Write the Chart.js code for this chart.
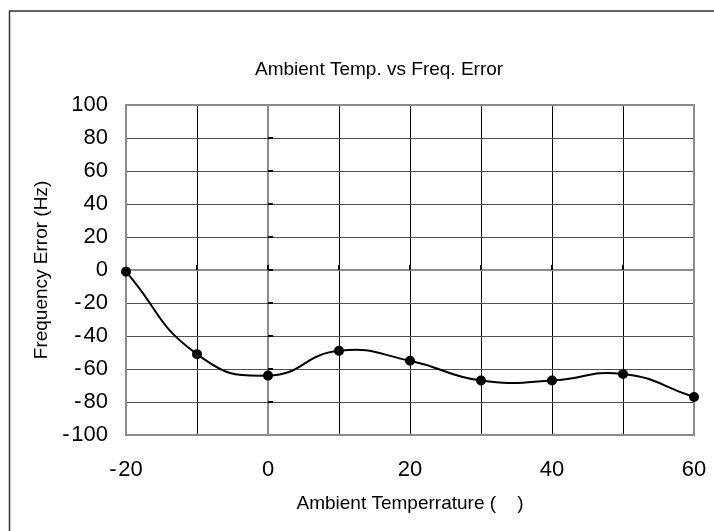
<!DOCTYPE html>
<html><head><meta charset="utf-8">
<script src="https://cdn.jsdelivr.net/npm/chart.js@4/dist/chart.umd.min.js"></script>
<style>html,body{margin:0;padding:0;background:#fff}#wrap{width:714px;height:531px}</style>
</head><body><div id="wrap"><canvas id="c" width="714" height="531"></canvas></div>
<script>
const temps = [-20, -10, 0, 10, 20, 30, 40, 50, 60];
const freqError = [-1, -51, -64, -49, -55, -67, -67, -63, -77];
const xTicks = [-20, 0, 20, 40, 60];
const yTicks = [100, 80, 60, 40, 20, 0, -20, -40, -60, -80, -100];
const FONT = "'Liberation Sans', Arial, sans-serif";

function fmt(v){ return v < 0 ? '-\u200A' + Math.abs(v) : String(v); }

const framePlugin = {
  id: 'frame',
  afterLayout(chart){
    if (chart.titleBlock) { chart.titleBlock.left = 255; }
  },
  beforeDraw(chart){
    const ctx = chart.ctx;
    ctx.save();
    ctx.fillStyle = '#fff';
    ctx.fillRect(0,0,chart.width,chart.height);
    ctx.strokeStyle = '#333';
    ctx.lineWidth = 1.5;
    ctx.beginPath();
    ctx.moveTo(9.5, chart.height + 2);
    ctx.lineTo(9.5, 11);
    ctx.lineTo(chart.width + 2, 11);
    ctx.stroke();
    ctx.restore();
  },
  beforeDatasetsDraw(chart){
    const {ctx, chartArea: a, scales} = chart;
    ctx.save();
    const x0 = scales.x.getPixelForValue(0);
    const y0 = scales.y.getPixelForValue(0);
    ctx.strokeStyle = '#000';
    ctx.lineWidth = 2;
    ctx.beginPath();
    yTicks.forEach(v => { const y = Math.round(scales.y.getPixelForValue(v)); ctx.moveTo(x0, y); ctx.lineTo(x0 + 5, y); });
    temps.forEach(v => { const x = Math.round(scales.x.getPixelForValue(v)); ctx.moveTo(x, y0); ctx.lineTo(x, y0 - 5); });
    ctx.stroke();
    ctx.strokeStyle = '#8c8c8c';
    ctx.lineWidth = 2;
    ctx.strokeRect(a.left, a.top, a.right - a.left, a.bottom - a.top);
    ctx.restore();
  }
};

new Chart(document.getElementById('c'), {
  type: 'line',
  data: {
    datasets: [{
      data: temps.map((t, i) => ({x: t, y: freqError[i]})),
      borderColor: '#000',
      backgroundColor: '#000',
      borderWidth: 2,
      pointRadius: 4,
      pointBackgroundColor: '#000',
      pointBorderColor: '#000',
      tension: 0.5,
      fill: false,
      clip: false
    }]
  },
  options: {
    responsive: false,
    animation: false,
    devicePixelRatio: 1,
    layout: { padding: { left: 0, right: 20, top: 0, bottom: 0 } },
    plugins: {
      legend: { display: false },
      tooltip: { enabled: false },
      title: {
        display: true,
        align: 'start',
        text: 'Ambient Temp. vs Freq. Error',
        color: '#000',
        font: { family: FONT, size: 19, weight: 'normal' },
        padding: { top: 58.6, bottom: 23.6 }
      }
    },
    scales: {
      x: {
        type: 'linear',
        min: -20, max: 60,
        afterFit(s){ s.height = 96; s.paddingLeft = 0; s.paddingRight = 0; },
        ticks: {
          stepSize: 10, autoSkip: false, maxRotation: 0,
          color: '#000', padding: 22,
          font: { family: FONT, size: 22 },
          callback: v => xTicks.includes(v) ? fmt(v) : ''
        },
        grid: {
          drawTicks: false,
          color: ctx => (ctx.tick && ctx.tick.value === 0) ? '#8c8c8c' : '#000',
          lineWidth: ctx => (ctx.tick && ctx.tick.value === 0) ? 2 : 1
        },
        border: { display: false },
        title: {
          display: true,
          text: 'Ambient Temperrature (    )',
          color: '#000',
          font: { family: FONT, size: 19 },
          padding: { top: 0, bottom: 15.6 }
        }
      },
      y: {
        min: -100, max: 100,
        afterFit(s){ s.width = 126; s.paddingTop = 0; s.paddingBottom = 0; },
        ticks: {
          stepSize: 20, autoSkip: false,
          color: '#000', padding: 18,
          font: { family: FONT, size: 22 },
          callback: v => fmt(v)
        },
        grid: {
          drawTicks: false,
          color: ctx => (ctx.tick && ctx.tick.value === 0) ? '#8c8c8c' : '#505050',
          lineWidth: ctx => (ctx.tick && ctx.tick.value === 0) ? 2 : 1
        },
        border: { display: false },
        title: {
          display: true,
          text: 'Frequency Error (Hz)',
          color: '#000',
          font: { family: FONT, size: 19 },
          padding: { top: 30, bottom: 0 }
        }
      }
    }
  },
  plugins: [framePlugin]
});
</script></body></html>
